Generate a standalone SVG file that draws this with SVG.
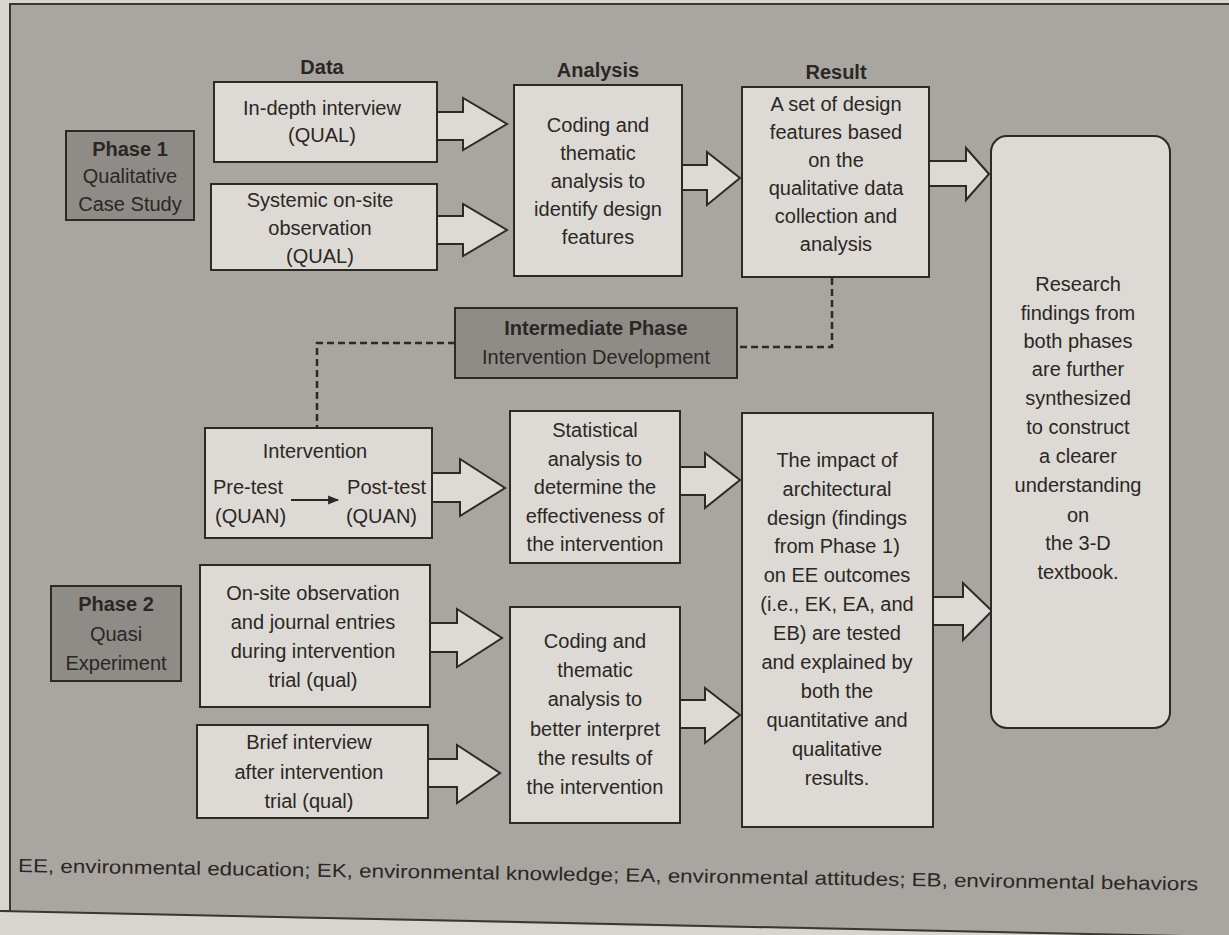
<svg xmlns="http://www.w3.org/2000/svg" width="1229" height="935" viewBox="0 0 1229 935">
<defs>
<style>
.bg{fill:#a9a6a1;stroke:#3a3733;stroke-width:2}
.box{fill:#dddad5;stroke:#2c2926;stroke-width:2}
.dark{fill:#8f8c87;stroke:#2c2926;stroke-width:2}
.arr{fill:#dddad5;stroke:#2c2926;stroke-width:2;stroke-linejoin:miter}
.dash{fill:none;stroke:#2c2926;stroke-width:2.5;stroke-dasharray:7 4}
text{font-family:"Liberation Sans","DejaVu Sans",sans-serif;font-size:20px;fill:#2a2724;text-anchor:middle}
.b{font-weight:bold}
.h{font-weight:bold;font-size:20px}
.l{text-anchor:start}
.r{text-anchor:end}
.foot{text-anchor:start;font-size:19px}
</style>
<marker id="ah" viewBox="0 0 10 10" refX="9" refY="5" markerWidth="13" markerHeight="11" orient="auto" markerUnits="userSpaceOnUse">
<path d="M0,1 L10,5 L0,9 z" fill="#2a2724"/>
</marker>
</defs>
<rect x="0" y="0" width="1229" height="935" fill="#d8d5d0"/>
<path class="bg" d="M10,4 H1231 V937 Q500,924 -2,911 H10 Z"/>

<g id="headers">
<text class="h" x="322" y="74">Data</text>
<text class="h" x="598" y="77">Analysis</text>
<text class="h" x="836" y="79">Result</text>
</g>

<g id="connectors">
<path class="arr" d="M437,112 H463 V98 L507,124 L463,150 V140 H437"/>
<path class="arr" d="M437,216 H463 V204 L507,230 L463,256 V244 H437"/>
<path class="arr" d="M682,165 H707 V152 L740,178 L707,205 V190 H682"/>
<path class="arr" d="M929,161 H966 V148 L989,174 L966,200 V186 H929"/>
<path class="arr" d="M432,473 H460 V459 L505,488 L460,516 V502 H432"/>
<path class="arr" d="M680,467 H705 V453 L740,480 L705,508 V495 H680"/>
<path class="arr" d="M430,623 H457 V609 L502,638 L457,667 V652 H430"/>
<path class="arr" d="M428,759 H457 V745 L500,773 L457,803 V787 H428"/>
<path class="arr" d="M680,700 H705 V688 L740,715 L705,743 V728 H680"/>
<path class="arr" d="M933,597 H963 V583 L992,611 L963,640 V625 H933"/>
<path class="dash" d="M832,278 V347 H738"/>
<path class="dash" d="M455,343 H317 V428"/>
</g>

<g id="phase1">
<rect class="dark" x="66" y="131" width="128" height="89"/>
<text class="b" x="130" y="156">Phase 1</text>
<text x="130" y="183">Qualitative</text>
<text x="130" y="211">Case Study</text>
</g>

<g id="indepth">
<rect class="box" x="214" y="82" width="223" height="80"/>
<text x="322" y="115">In-depth interview</text>
<text x="322" y="142">(QUAL)</text>
</g>

<g id="systemic">
<rect class="box" x="211" y="184" width="226" height="86"/>
<text x="320" y="207">Systemic on-site</text>
<text x="320" y="235">observation</text>
<text x="320" y="263">(QUAL)</text>
</g>

<g id="analysis1">
<rect class="box" x="514" y="85" width="168" height="191"/>
<text x="598" y="132">Coding and</text>
<text x="598" y="160">thematic</text>
<text x="598" y="188">analysis to</text>
<text x="598" y="216">identify design</text>
<text x="598" y="244">features</text>
</g>

<g id="result1">
<rect class="box" x="742" y="87" width="187" height="190"/>
<text x="836" y="111">A set of design</text>
<text x="836" y="139">features based</text>
<text x="836" y="167">on the</text>
<text x="836" y="195">qualitative data</text>
<text x="836" y="223">collection and</text>
<text x="836" y="251">analysis</text>
</g>

<g id="final">
<rect class="box" x="991" y="136" width="179" height="592" rx="16"/>
<text x="1078" y="291">Research</text>
<text x="1078" y="320">findings from</text>
<text x="1078" y="348">both phases</text>
<text x="1078" y="376">are further</text>
<text x="1078" y="405">synthesized</text>
<text x="1078" y="434">to construct</text>
<text x="1078" y="463">a clearer</text>
<text x="1078" y="492">understanding</text>
<text x="1078" y="522">on</text>
<text x="1078" y="550">the 3-D</text>
<text x="1078" y="579">textbook.</text>
</g>

<g id="intermediate">
<rect class="dark" x="455" y="308" width="282" height="70"/>
<text class="b" x="596" y="335">Intermediate Phase</text>
<text x="596" y="364">Intervention Development</text>
</g>

<g id="intervention">
<rect class="box" x="205" y="428" width="227" height="110"/>
<text x="315" y="458">Intervention</text>
<text class="l" x="213" y="494">Pre-test</text>
<text class="r" x="426" y="494">Post-test</text>
<text class="l" x="215" y="523">(QUAN)</text>
<text class="r" x="417" y="523">(QUAN)</text>
<line x1="291" y1="500" x2="338" y2="500" stroke="#2a2724" stroke-width="2" marker-end="url(#ah)"/>
</g>

<g id="statistical">
<rect class="box" x="510" y="411" width="170" height="152"/>
<text x="595" y="437">Statistical</text>
<text x="595" y="466">analysis to</text>
<text x="595" y="494">determine the</text>
<text x="595" y="523">effectiveness of</text>
<text x="595" y="551">the intervention</text>
</g>

<g id="impact">
<rect class="box" x="742" y="413" width="191" height="414"/>
<text x="837" y="467">The impact of</text>
<text x="837" y="496">architectural</text>
<text x="837" y="525">design (findings</text>
<text x="837" y="553">from Phase 1)</text>
<text x="837" y="582">on EE outcomes</text>
<text x="837" y="611">(i.e., EK, EA, and</text>
<text x="837" y="640">EB) are tested</text>
<text x="837" y="669">and explained by</text>
<text x="837" y="698">both the</text>
<text x="837" y="727">quantitative and</text>
<text x="837" y="756">qualitative</text>
<text x="837" y="785">results.</text>
</g>

<g id="phase2">
<rect class="dark" x="51" y="586" width="130" height="95"/>
<text class="b" x="116" y="611">Phase 2</text>
<text x="116" y="641">Quasi</text>
<text x="116" y="670">Experiment</text>
</g>

<g id="onsite">
<rect class="box" x="200" y="565" width="230" height="142"/>
<text x="313" y="600">On-site observation</text>
<text x="313" y="629">and journal entries</text>
<text x="313" y="658">during intervention</text>
<text x="313" y="687">trial (qual)</text>
</g>

<g id="brief">
<rect class="box" x="197" y="725" width="231" height="93"/>
<text x="309" y="749">Brief interview</text>
<text x="309" y="779">after intervention</text>
<text x="309" y="808">trial (qual)</text>
</g>

<g id="analysis2">
<rect class="box" x="510" y="607" width="170" height="216"/>
<text x="595" y="648">Coding and</text>
<text x="595" y="677">thematic</text>
<text x="595" y="706">analysis to</text>
<text x="595" y="736">better interpret</text>
<text x="595" y="765">the results of</text>
<text x="595" y="794">the intervention</text>
</g>

<g id="footnote">
<text class="foot" x="18" y="872" textLength="1180" lengthAdjust="spacingAndGlyphs" transform="rotate(0.9 18 872)">EE, environmental education; EK, environmental knowledge; EA, environmental attitudes; EB, environmental behaviors</text>
</g>
</svg>
